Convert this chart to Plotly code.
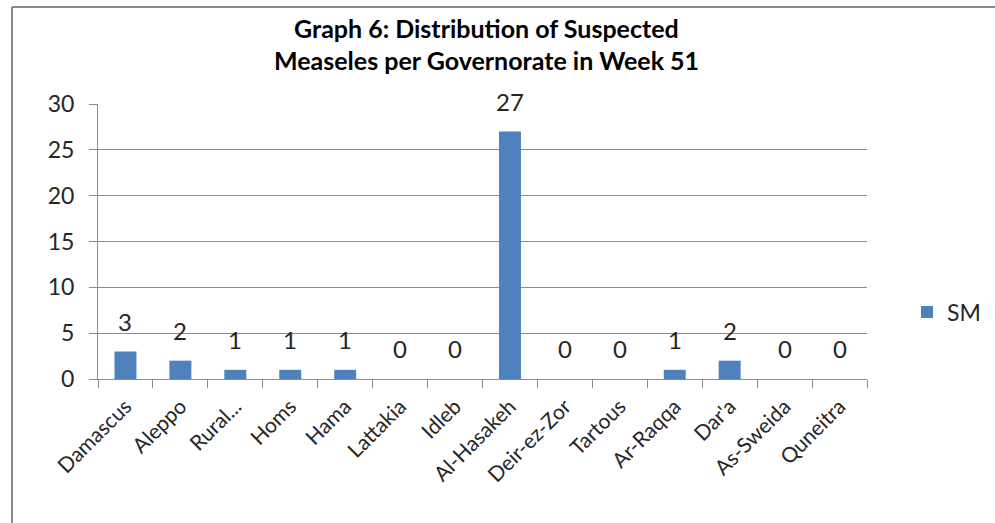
import plotly.graph_objects as go

categories = ["Damascus", "Aleppo", "Rural...", "Homs", "Hama", "Lattakia", "Idleb",
              "Al-Hasakeh", "Deir-ez-Zor", "Tartous", "Ar-Raqqa", "Dar'a", "As-Sweida", "Quneitra"]
sm_values = [3, 2, 1, 1, 1, 0, 0, 27, 0, 0, 1, 2, 0, 0]
y_ticks = [0, 5, 10, 15, 20, 25, 30]
title_lines = ["Graph 6: Distribution of Suspected", "Measeles per Governorate in Week 51"]

W, H = 995, 523
ml, mr, mt, mb = 98, 128, 104, 144
pw = W - ml - mr
ph = H - mt - mb

FONT = "Lato, Open Sans, sans-serif"
TXT = "#262626"

fig = go.Figure()
fig.add_trace(go.Bar(
    x=categories, y=sm_values, name="SM",
    marker=dict(color="#4F81BD", line=dict(width=0)),
))

annotations = []
for c, v in zip(categories, sm_values):
    annotations.append(dict(
        x=c, y=v, xref="x", yref="y", text=str(v), showarrow=False,
        yanchor="bottom", yshift=14,
        font=dict(size=24, family=FONT, color=TXT)))
for i, line in enumerate(title_lines):
    annotations.append(dict(
        text="<b>" + line + "</b>", xref="paper", yref="paper",
        x=(487 - ml) / pw, y=1 + (mt - (28 + 32 * i)) / ph,
        xanchor="center", yanchor="middle", showarrow=False,
        font=dict(size=25, family=FONT, color="black")))

grid = "#8c8c8c"
fig.update_layout(
    width=W, height=H,
    margin=dict(l=ml, r=mr, t=mt, b=mb, autoexpand=False),
    paper_bgcolor="white", plot_bgcolor="white",
    bargap=0.6,
    annotations=annotations,
    showlegend=True,
    legend=dict(x=(907 - ml) / pw, xanchor="left", y=(379 - 312) / ph, yanchor="middle",
                font=dict(size=23, family=FONT, color=TXT), bgcolor="rgba(0,0,0,0)"),
    xaxis=dict(showline=True, linecolor=grid, linewidth=1, ticks="outside", ticklen=8,
               tickcolor=grid, tickson="boundaries", tickangle=-45, automargin=False,
               ticklabelstandoff=6,
               tickfont=dict(size=21, family=FONT, color=TXT), showgrid=False),
    yaxis=dict(range=[0, 30], tickvals=y_ticks, showline=True, linecolor=grid, linewidth=1,
               ticks="outside", ticklen=8, tickcolor=grid, showgrid=True, gridcolor=grid,
               gridwidth=1, zeroline=False, automargin=False, ticklabelstandoff=10,
               tickfont=dict(size=23, family=FONT, color=TXT)),
    shapes=[
        dict(type="line", xref="paper", yref="paper",
             x0=(12 - ml) / pw, x1=(12 - ml) / pw, y0=-(mb + 20) / ph, y1=1 + (mt - 7) / ph,
             line=dict(color="#888888", width=2)),
        dict(type="line", xref="paper", yref="paper",
             x0=(12 - ml) / pw, x1=(W - ml + 20) / pw, y0=1 + (mt - 7) / ph, y1=1 + (mt - 7) / ph,
             line=dict(color="#888888", width=2)),
    ],
)

fig.write_html("out.html", config={"displayModeBar": False},
               post_script="document.body.style.margin='0';")
